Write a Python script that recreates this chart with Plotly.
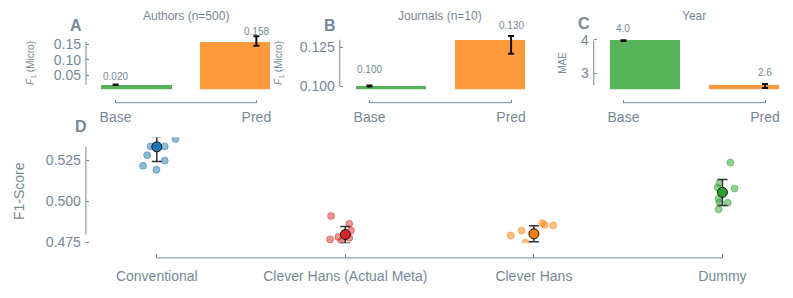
import plotly.graph_objects as go

W, H = 793, 298
TEXT = "#778899"
FONT = "Liberation Sans, Arial, sans-serif"
GREEN = "#57b35a"
ORANGE = "#fd9a3e"

# ---------------- data: top panels ----------------
groups = ["Base", "Pred"]
authors_vals = [0.020, 0.158]
authors_lo = [0.019, 0.145]
authors_hi = [0.021, 0.175]
journals_vals = [0.100, 0.130]
journals_lo = [0.0997, 0.121]
journals_hi = [0.1003, 0.1324]
year_vals = [3.98, 2.63]
year_lo = [3.97, 2.55]
year_hi = [3.99, 2.67]

# ---------------- data: panel D ----------------
models = ["Conventional", "Clever Hans (Actual Meta)", "Clever Hans", "Dummy"]
conv_runs = [0.5335, 0.5335, 0.5281, 0.5248, 0.5216, 0.5192, 0.5380]
conv_jit = [-0.033, 0.042, -0.051, 0.042, -0.073, -0.002, 0.099]
meta_runs = [0.4909, 0.4861, 0.4820, 0.4766, 0.4780, 0.4776, 0.4757]
meta_jit = [-0.076, 0.021, 0.030, -0.081, -0.037, 0.021, -0.020]
hans_runs = [0.4790, 0.4820, 0.4865, 0.4855, 0.4851, 0.4746]
hans_jit = [-0.123, -0.065, 0.044, 0.057, 0.102, -0.044]
dummy_runs = [0.5236, 0.5077, 0.5083, 0.5110, 0.5014, 0.4990, 0.4950, 0.4994]
dummy_jit = [0.042, 0.064, -0.025, -0.016, -0.020, 0.028, -0.021, -0.016]
model_means = [0.5332, 0.4796, 0.4800, 0.5054]
model_lo = [0.5243, 0.4743, 0.4752, 0.4974]
model_hi = [0.5395, 0.4845, 0.4849, 0.5133]
model_colors = ["#1f77b4", "#d62728", "#ff7f0e", "#2ca02c"]


def hexrgba(h, a):
    h = h.lstrip("#")
    return f"rgba({int(h[0:2],16)},{int(h[2:4],16)},{int(h[4:6],16)},{a})"


def pxx(x):
    return x / W


def pxy(y):
    return 1 - y / H


fig = go.Figure()

top_panels = [
    dict(key="", vals=authors_vals, lo=authors_lo, hi=authors_hi, title="Authors (n=500)",
         letter="A", letter_xy=(76, 25), ylab="<i>F</i><sub>1</sub> (Micro)", ylab_x=31.7,
         dom=(86.1, 270.8), yr=[0.0055, 0.1853], tv=[0.05, 0.10, 0.15], tt=["0.05", "0.10", "0.15"],
         fmt="{:.3f}", shifts=[8, 10]),
    dict(key="2", vals=journals_vals, lo=journals_lo, hi=journals_hi, title="Journals (n=10)",
         letter="B", letter_xy=(330, 25), ylab="<i>F</i><sub>1</sub> (Micro)", ylab_x=280,
         dom=(340.2, 525.9), yr=[0.0979, 0.1343], tv=[0.100, 0.125], tt=["0.100", "0.125"],
         fmt="{:.3f}", shifts=[17, 14]),
    dict(key="3", vals=year_vals, lo=year_lo, hi=year_hi, title="Year",
         letter="C", letter_xy=(585, 23), ylab="MAE", ylab_x=563.3,
         dom=(594.5, 780.2), yr=[2.51, 4.206], tv=[3, 4], tt=["3", "4"],
         fmt="{:.1f}", shifts=[12, 13]),
]

BAR_POS = [0.15, 0.85]
BAR_W = 0.5
bar_colors = [GREEN, ORANGE]
annotations = []
shapes = []
layout_axes = {}

for p in top_panels:
    k = p["key"]
    xa, ya = "x" + k, "y" + k
    fig.add_trace(go.Bar(x=BAR_POS, y=p["vals"], width=BAR_W, marker_color=bar_colors,
                         marker_line_width=0, xaxis=xa, yaxis=ya, hoverinfo="skip"))
    fig.add_trace(go.Scatter(
        x=[0, 1], y=p["vals"], mode="markers", marker=dict(size=1, opacity=0),
        error_y=dict(type="data", symmetric=False,
                     array=[h - v for h, v in zip(p["hi"], p["vals"])],
                     arrayminus=[v - l for v, l in zip(p["vals"], p["lo"])],
                     color="#111111", thickness=2, width=3),
        xaxis=xa, yaxis=ya, hoverinfo="skip"))
    layout_axes["xaxis" + k] = dict(
        domain=[pxx(p["dom"][0]), pxx(p["dom"][1])], range=[-0.21, 1.1], anchor="free",
        position=pxy(104.5), tickvals=[0, 1], ticktext=groups, ticks="inside", ticklen=3,
        tickcolor=TEXT, showline=False, showgrid=False, zeroline=False, ticklabelstandoff=4,
        tickfont=dict(size=14, color=TEXT, family=FONT))
    layout_axes["yaxis" + k] = dict(
        domain=[pxy(90.7), pxy(33)], range=p["yr"], anchor=xa, tickvals=p["tv"], ticktext=p["tt"],
        ticks="inside", ticklen=3, tickcolor=TEXT, showline=False, showgrid=False, zeroline=False,
        ticklabelstandoff=4, tickfont=dict(size=14, color=TEXT, family=FONT))
    # trimmed spines
    shapes.append(dict(type="line", xref=xa + " domain", yref=ya, x0=0, x1=0,
                       y0=min(p["vals"]), y1=max(p["vals"]), line=dict(color=TEXT, width=1)))
    shapes.append(dict(type="line", xref=xa, yref="paper", x0=0, x1=1,
                       y0=pxy(104.5), y1=pxy(104.5), line=dict(color=TEXT, width=1)))
    # value labels
    for i, v in enumerate(p["vals"]):
        annotations.append(dict(x=i, y=v, xref=xa, yref=ya, text=p["fmt"].format(v),
                                showarrow=False, yshift=p["shifts"][i], yanchor="middle",
                                xanchor="center", font=dict(size=10, color=TEXT, family=FONT)))
    annotations.append(dict(x=0.5, y=pxy(15.7), xref=xa, yref="paper", text=p["title"],
                            showarrow=False, yanchor="middle", xanchor="center",
                            font=dict(size=12, color=TEXT, family=FONT)))
    annotations.append(dict(x=pxx(p["letter_xy"][0]), y=pxy(p["letter_xy"][1]), xref="paper",
                            yref="paper", text="<b>" + p["letter"] + "</b>", showarrow=False,
                            yanchor="middle", xanchor="center",
                            font=dict(size=16, color=TEXT, family=FONT)))
    annotations.append(dict(x=pxx(p["ylab_x"]), y=pxy(64), xref="paper", yref="paper",
                            text=p["ylab"], textangle=-90, showarrow=False,
                            xanchor="center", yanchor="middle",
                            font=dict(size=10, color=TEXT, family=FONT)))

# ---------------- panel D ----------------
runs = [conv_runs, meta_runs, hans_runs, dummy_runs]
jits = [conv_jit, meta_jit, hans_jit, dummy_jit]
for i, (r, j, c) in enumerate(zip(runs, jits, model_colors)):
    fig.add_trace(go.Scatter(
        x=[i + d for d in j], y=r, mode="markers",
        marker=dict(size=7, color=hexrgba(c, 0.5), line=dict(color=hexrgba(c, 0.45), width=1)),
        xaxis="x4", yaxis="y4", hoverinfo="skip"))
for i, c in enumerate(model_colors):
    fig.add_trace(go.Scatter(
        x=[i], y=[model_means[i]], mode="markers",
        marker=dict(size=10, color=c, line=dict(color="#111111", width=1)),
        error_y=dict(type="data", symmetric=False, array=[model_hi[i] - model_means[i]],
                     arrayminus=[model_means[i] - model_lo[i]], color="#333333",
                     thickness=1.5, width=5),
        xaxis="x4", yaxis="y4", hoverinfo="skip"))

layout_axes["xaxis4"] = dict(
    domain=[pxx(86), pxx(780)], range=[-0.376, 3.3], anchor="free", position=pxy(264),
    tickvals=[0, 1, 2, 3], ticktext=models, ticks="inside", ticklen=4, tickcolor=TEXT,
    showline=False, showgrid=False, zeroline=False, ticklabelstandoff=8,
    tickfont=dict(size=14, color=TEXT, family=FONT))
layout_axes["yaxis4"] = dict(
    domain=[pxy(249), pxy(140)], range=[0.4742, 0.5391], anchor="x4",
    tickvals=[0.475, 0.500, 0.525], ticktext=["0.475", "0.500", "0.525"], ticks="inside",
    ticklen=3, tickcolor=TEXT, showline=False, showgrid=False, zeroline=False,
    ticklabelstandoff=4, tickfont=dict(size=14, color=TEXT, family=FONT))
shapes.append(dict(type="line", xref="x4 domain", yref="y4", x0=0, x1=0,
                   y0=min(model_means), y1=max(model_means), line=dict(color=TEXT, width=1)))
shapes.append(dict(type="line", xref="x4", yref="paper", x0=0, x1=3,
                   y0=pxy(264), y1=pxy(264), line=dict(color=TEXT, width=1)))
annotations.append(dict(x=pxx(81), y=pxy(129), xref="paper", yref="paper", text="<b>D</b>",
                        showarrow=False, yanchor="middle", xanchor="center",
                        font=dict(size=16, color=TEXT, family=FONT)))
annotations.append(dict(x=pxx(18.3), y=pxy(195), xref="paper", yref="paper", text="F1-Score",
                        textangle=-90, showarrow=False, xanchor="center", yanchor="middle",
                        font=dict(size=14, color=TEXT, family=FONT)))

fig.update_layout(
    width=W, height=H, margin=dict(l=0, r=0, t=0, b=0),
    paper_bgcolor="white", plot_bgcolor="white", showlegend=False,
    bargap=0, annotations=annotations, shapes=shapes, **layout_axes)

fig.write_html("out.html", config={"displayModeBar": False},
               post_script="document.body.style.margin='0';")
